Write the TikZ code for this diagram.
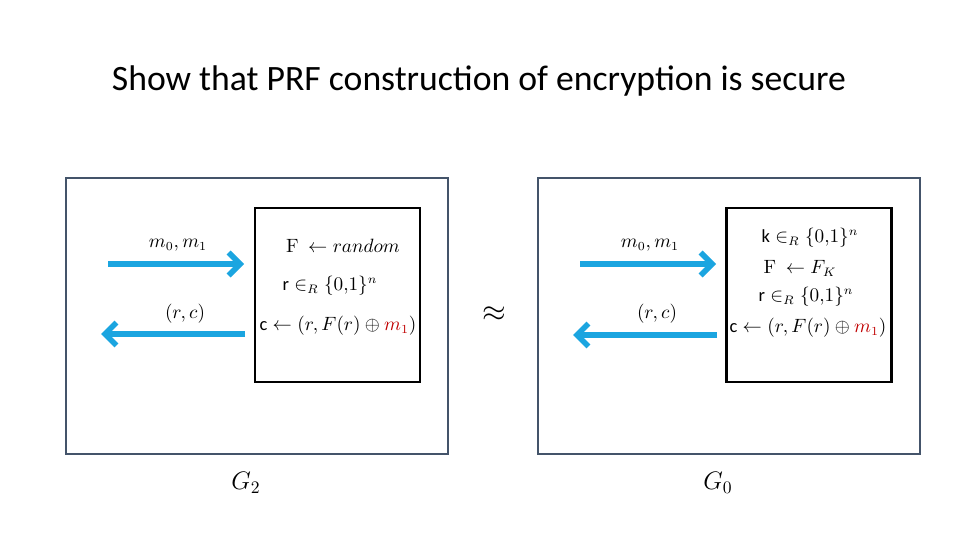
\documentclass[tikz,border=0pt]{standalone}
\usepackage[no-math]{fontspec}
\setmainfont{Carlito}
\usetikzlibrary{arrows.meta}
\definecolor{framec}{HTML}{44546A}
\definecolor{arrc}{HTML}{1BA5E0}
\definecolor{mred}{HTML}{C00000}
\begin{document}
\begin{tikzpicture}[x=0.02cm,y=-0.02cm,
 outerbox/.style={draw=framec,line width=1.1pt,minimum width=7.64cm,minimum height=5.52cm,inner sep=0},
 innerbox/.style={draw=black,line width=1.3pt,minimum width=3.3cm,minimum height=3.48cm,inner sep=0},
 flow/.style={draw=arrc,line width=3.2pt,-{Straight Barb[length=6.5pt,width=13pt]}},
 lbl/.style={font=\fontsize{10.5}{12}\selectfont,inner sep=0}]
\useasboundingbox (0,0) rectangle (960,540);
\node[font=\fontsize{20.3}{24}\selectfont] (title) at (479,81) {Show that PRF construction of encryption is secure};
% left game
\node[outerbox] (outL) at (257,316) {};
\node[innerbox] (boxL) at (337.5,295) {};
\node[lbl] (fL) at (343,246) {$\mathrm{F}\ \leftarrow random$};
\node[lbl] (rL) at (330,286) {$\mbox{r} \in_R \{0{,}1\}^n$};
\node[lbl] (cL) at (338,326) {$\mbox{c} \leftarrow (r, F(r) \oplus \textcolor{mred}{m_1})$};
\coordinate (inLs) at (108,264);
\coordinate (inLe) at (244,264);
\coordinate (outLs) at (245,334);
\coordinate (outLe) at (101,334);
\draw[flow] (inLs) -- (inLe);
\draw[flow] (outLs) -- (outLe);
\node[lbl] (mL) at (178,245) {$m_0, m_1$};
\node[lbl] (rcL) at (185,314) {$(r, c)$};
\node[lbl,font=\fontsize{14.4}{16}\selectfont] (gL) at (246,483) {$G_2$};
% approx
\node[lbl,font=\fontsize{16}{18}\selectfont] (approx) at (494,314) {$\approx$};
% right game
\node[outerbox] (outR) at (729,316) {};
\node[innerbox] (boxR) at (809,295) {};
\node[lbl] (kR) at (810,238) {$\mbox{k} \in_R \{0{,}1\}^n$};
\node[lbl] (fR) at (800,268) {$\mathrm{F}\ \leftarrow F_K$};
\node[lbl] (rR) at (806,297) {$\mbox{r} \in_R \{0{,}1\}^n$};
\node[lbl] (cR) at (808,328) {$\mbox{c} \leftarrow (r, F(r) \oplus \textcolor{mred}{m_1})$};
\coordinate (inRs) at (580,264);
\coordinate (inRe) at (716,264);
\coordinate (outRs) at (717,335);
\coordinate (outRe) at (573,335);
\draw[flow] (inRs) -- (inRe);
\draw[flow] (outRs) -- (outRe);
\node[lbl] (mR) at (650,245) {$m_0, m_1$};
\node[lbl] (rcR) at (657,314) {$(r, c)$};
\node[lbl,font=\fontsize{14.4}{16}\selectfont] (gR) at (718,483) {$G_0$};
\end{tikzpicture}
\end{document}
